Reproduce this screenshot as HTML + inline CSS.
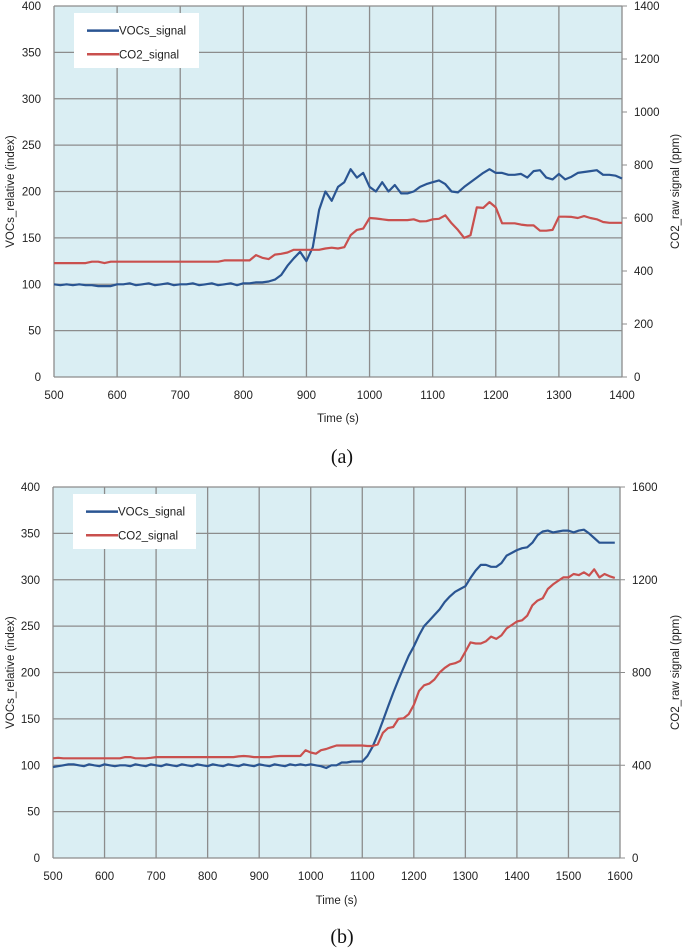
<!DOCTYPE html>
<html><head><meta charset="utf-8"><style>
body{margin:0;background:#fff;width:685px;height:951px;overflow:hidden;font-family:"Liberation Sans",sans-serif}
svg{position:absolute;left:0;top:0}
</style></head><body>
<svg id="chart" width="685" height="951"></svg>
<script>
// ---- Chart (a) data ----
const timeA = [];
for (let t = 500; t <= 1400; t += 10) timeA.push(t);
const vocA = [100,99,100,99,100,99,99,98,98,98,100,100,101,99,100,101,99,100,101,99,100,100,101,99,100,101,99,100,101,99,101,101,102,102,103,105,110,120,128,135,125,140,180,200,190,205,210,224,215,220,205,200,210,200,207,198,198,200,205,208,210,212,208,200,199,205,210,215,220,224,220,220,218,218,219,215,222,223,215,213,219,213,216,220,221,222,223,218,218,217,214];
const co2A = [430,430,430,430,430,430,435,435,430,435,435,435,435,435,435,435,435,435,435,435,435,435,435,435,435,435,435,440,440,440,440,440,460,450,445,462,465,470,480,480,480,480,480,485,488,485,490,535,555,560,600,598,595,592,592,592,592,595,587,588,595,597,610,580,555,525,535,640,638,660,640,580,580,580,575,572,572,552,552,555,605,605,604,600,607,600,595,585,582,582,582];
const xTicksA = [500,600,700,800,900,1000,1100,1200,1300,1400];
const yTicksA = [0,50,100,150,200,250,300,350,400];
const y2TicksA = [0,200,400,600,800,1000,1200,1400];
// ---- Chart (b) data ----
const timeB = [];
for (let t = 500; t <= 1590; t += 10) timeB.push(t);
const vocB = [98,99,100,101,101,100,99,101,100,99,101,100,99,100,100,99,101,100,99,101,100,99,101,100,99,101,100,99,101,100,99,101,100,99,101,100,99,101,100,99,101,100,99,101,100,99,101,100,101,100,101,100,99,97,100,100,103,103,104,104,104,110,120,133,148,163,178,192,205,218,228,240,250,256,262,268,276,282,287,290,293,302,310,316,316,314,314,318,326,329,332,334,335,340,348,352,353,351,352,353,353,351,353,354,350,345,340,340,340,340];
const co2B = [430,432,430,430,430,430,430,430,430,430,430,430,430,430,435,435,430,430,430,432,435,435,435,435,435,435,435,435,435,435,435,435,435,435,435,435,438,440,438,435,435,435,435,438,440,440,440,440,440,465,455,450,465,470,478,485,485,485,485,485,485,483,483,490,540,560,565,600,602,620,660,720,745,752,770,800,820,835,840,850,890,930,925,925,935,955,945,960,990,1005,1020,1025,1045,1090,1110,1120,1160,1180,1195,1210,1210,1225,1220,1232,1218,1245,1210,1225,1215,1208];
const xTicksB = [500,600,700,800,900,1000,1100,1200,1300,1400,1500,1600];
const yTicksB = [0,50,100,150,200,250,300,350,400];
const y2TicksB = [0,400,800,1200,1600];

const svg = document.getElementById('chart');
const NS = 'http://www.w3.org/2000/svg';
function mk(tag, attrs, parent){const e=document.createElementNS(NS,tag);for(const k in attrs)e.setAttribute(k,attrs[k]);(parent||svg).appendChild(e);return e;}

function drawChart(id, box, xMin, xMax, yMax, y2Max, xT, yT, y2T, times, voc, co2, legendBox, timeY, caption, capY){
  const g = mk('g',{});
  
  
  const xs = v => box.x0 + (v - xMin)/(xMax - xMin)*(box.x1 - box.x0);
  const ys = v => box.y1 - v/yMax*(box.y1 - box.y0);
  const y2s = v => box.y1 - v/y2Max*(box.y1 - box.y0);
  const bg = mk('rect',{x:box.x0,y:box.y0,width:box.x1-box.x0,height:box.y1-box.y0,fill:'#daeef3'},g);
  
  
  yT.forEach(v=>{
    const l=mk('line',{x1:box.x0,x2:box.x1,y1:ys(v),y2:ys(v),stroke:'#8c8c8c','stroke-width':1.3},g);
    
    
    const t=mk('text',{x:box.x0-13,y:ys(v)+4,'text-anchor':'end','font-size':11.5,fill:'#222'},g);
    t.textContent=v;
    
    
  });
  xT.forEach(v=>{
    const l=mk('line',{x1:xs(v),x2:xs(v),y1:box.y0,y2:box.y1,stroke:'#8c8c8c','stroke-width':1.3},g);
    
    
    const t=mk('text',{x:xs(v),y:box.y1+22,'text-anchor':'middle','font-size':11.5,fill:'#222'},g);
    t.textContent=v;
    
    
  });
  y2T.forEach(v=>{
    const tk=mk('line',{x1:box.x1,x2:box.x1+5,y1:y2s(v),y2:y2s(v),stroke:'#8c8c8c'},g);
    
    
    const t=mk('text',{x:box.x1+12,y:y2s(v)+4,'font-size':11.5,fill:'#222'},g);
    t.textContent=v;
    
    
  });
  const pv=times.map((t,i)=>xs(t).toFixed(1)+','+ys(voc[i]).toFixed(1)).join(' ');
  const lv=mk('polyline',{points:pv,fill:'none',stroke:'#2a5592','stroke-width':2.2,'stroke-linejoin':'round'},g);
  
  
  const pc=times.map((t,i)=>xs(t).toFixed(1)+','+y2s(co2[i]).toFixed(1)).join(' ');
  const lc=mk('polyline',{points:pc,fill:'none',stroke:'#c9504e','stroke-width':2.2,'stroke-linejoin':'round'},g);
  
  
  const lg=mk('g',{},g);
  
  
  mk('rect',{x:legendBox.x,y:legendBox.y,width:legendBox.w,height:legendBox.h,fill:'#fff'},lg);
  [['VOCs_signal','#2a5592',0.32],['CO2_signal','#c9504e',0.75]].forEach(([n,c,f])=>{
    const yy=legendBox.y+legendBox.h*f;
    const e=mk('g',{},lg);
    
    
    mk('line',{x1:legendBox.x+13,x2:legendBox.x+45,y1:yy,y2:yy,stroke:c,'stroke-width':2.5},e);
    const t=mk('text',{x:legendBox.x+45,y:yy+4,'font-size':11.5,fill:'#222'},e);
    t.textContent=n;
  });
  const yt=mk('text',{x:0,y:0,'text-anchor':'middle','font-size':11.5,fill:'#222',transform:`translate(14,${(box.y0+box.y1)/2}) rotate(-90)`},g);
  yt.textContent='VOCs_relative (index)';
  
  
  const y2t=mk('text',{x:0,y:0,'text-anchor':'middle','font-size':11.5,fill:'#222',transform:`translate(679,${(box.y0+box.y1)/2}) rotate(-90)`},g);
  y2t.textContent='CO2_raw signal (ppm)';
  
  
  const xt=mk('text',{x:(box.x0+box.x1)/2,y:timeY,'text-anchor':'middle','font-size':11.5,fill:'#222'},g);
  xt.textContent='Time (s)';
  
  
  const cp=mk('text',{x:342,y:capY,'text-anchor':'middle','font-size':20,'font-family':'Liberation Serif, serif',fill:'#111'},g);
  cp.textContent=caption;
  
  
}
drawChart('a',{x0:54,x1:622,y0:6,y1:377},500,1400,400,1400,xTicksA,yTicksA,y2TicksA,timeA,vocA,co2A,{x:74,y:13,w:125,h:55},422,'(a)',463);
drawChart('b',{x0:53,x1:620,y0:487,y1:858},500,1600,400,1600,xTicksB,yTicksB,y2TicksB,timeB,vocB,co2B,{x:73,y:494,w:123,h:55},904,'(b)',943);
</script>
</body></html>
